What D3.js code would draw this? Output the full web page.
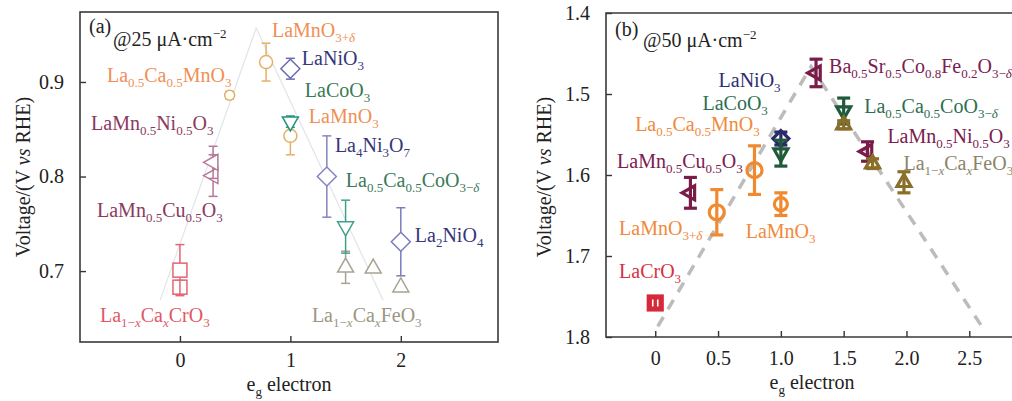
<!DOCTYPE html>
<html><head><meta charset="utf-8">
<script src="https://cdn.jsdelivr.net/npm/d3@7/dist/d3.min.js"></script>
<style>html,body{margin:0;padding:0;background:#fff;}svg{display:block;}</style>
</head><body>
<svg id="chart" width="1012" height="401"></svg>
<script>
// ---------------- DATA ----------------
// Panel (a) @25 µA·cm-2
const aSeries = ["CrO3","CrO3","Cu","Ni","CaMn","MnD","LaNiO3","LaMnO3","LaCoO3","La4Ni3O7","Fe","CaCo","Fe","Fe","La2NiO4"];
const aEg     = [0, 0, 0.30, 0.30, 0.45, 0.78, 1.00, 1.00, 1.00, 1.33, 1.50, 1.50, 1.75, 2.00, 2.00];
const aVolt   = [0.683, 0.701, 0.801, 0.815, 0.886, 0.921, 0.914, 0.843, 0.858, 0.800, 0.704, 0.747, 0.703, 0.683, 0.731];
const aErr    = [0.007, 0.027, 0.022, 0.017, 0.004, 0.020, 0.011, 0.020, 0.006, 0.043, 0.017, 0.028, 0, 0, 0.036];
const aVolcanoEg   = [-0.18, 0.69, 1.84];
const aVolcanoVolt = [0.669, 0.957, 0.669];
const aXTicks = [0, 1, 2];
const aYTicks = [0.7, 0.8, 0.9];

// Panel (b) @50 µA·cm-2
const bSeries = ["LaCrO3","Cu","MnD","CaMn","LaMnO3","LaNiO3","LaCoO3","BSCF","CaCo","Fe","Ni","Fe","Fe"];
const bEg     = [0, 0.28, 0.49, 0.79, 1.00, 1.00, 1.00, 1.28, 1.50, 1.50, 1.69, 1.73, 1.98];
const bVolt   = [1.758, 1.622, 1.646, 1.594, 1.636, 1.555, 1.573, 1.474, 1.521, 1.538, 1.571, 1.586, 1.609];
const bErr    = [0.004, 0.019, 0.028, 0.030, 0.014, 0.008, 0.016, 0.017, 0.016, 0.005, 0.012, 0.006, 0.013];
const bVolcanoEg   = [0.02, 1.24, 2.60];
const bVolcanoVolt = [1.787, 1.466, 1.787];
const bXTicks = [0, 0.5, 1.0, 1.5, 2.0, 2.5];
const bXTickLabels = ["0", "0.5", "1.0", "1.5", "2.0", "2.5"];
const bYTicks = [1.4, 1.5, 1.6, 1.7, 1.8];
const bYTickLabels = ["1.4", "1.5", "1.6", "1.7", "1.8"];

// Labels (rich text: _{} subscript, ^{} superscript, *..* italic)
const aLabelText = ["La_{0.5}Ca_{0.5}MnO_{3}","LaMn_{0.5}Ni_{0.5}O_{3}","LaMn_{0.5}Cu_{0.5}O_{3}","La_{1−*x*}Ca_{*x*}CrO_{3}",
  "LaMnO_{3+*δ*}","LaNiO_{3}","LaCoO_{3}","LaMnO_{3}","La_{4}Ni_{3}O_{7}","La_{0.5}Ca_{0.5}CoO_{3−*δ*}","La_{2}NiO_{4}","La_{1−*x*}Ca_{*x*}FeO_{3}"];
const aLabelSeries = ["CaMn","Ni","Cu","CrO3","MnD","LaNiO3","LaCoO3","LaMnO3","La4Ni3O7","CaCo","La2NiO4","Fe"];
const bLabelText = ["LaNiO_{3}","LaCoO_{3}","La_{0.5}Ca_{0.5}MnO_{3}","LaMn_{0.5}Cu_{0.5}O_{3}","LaMnO_{3+*δ*}","LaMnO_{3}","LaCrO_{3}",
  "Ba_{0.5}Sr_{0.5}Co_{0.8}Fe_{0.2}O_{3−*δ*}","La_{0.5}Ca_{0.5}CoO_{3−*δ*}","LaMn_{0.5}Ni_{0.5}O_{3}","La_{1−*x*}Ca_{*x*}FeO_{3}"];
const bLabelSeries = ["LaNiO3","LaCoO3","CaMn","Cu","MnD","LaMnO3","LaCrO3","BSCF","CaCo","Ni","Fe"];

// ---------------- LAYOUT / STYLE ----------------
// label anchors (text start, baseline) in data units
const aLabelPos = [[-0.661,0.8997],[-0.805,0.8489],[-0.751,0.7568],[-0.724,0.6457],[0.833,0.9473],[1.104,0.9177],
  [1.131,0.8838],[1.167,0.8563],[1.403,0.8256],[1.502,0.7886],[2.127,0.7304],[1.195,0.6457]];
const bLabelPos = [[0.504,1.4915],[0.376,1.520],[-0.16,1.5455],[-0.304,1.5914],[-0.288,1.674],[0.72,1.6778],[-0.288,1.727],
  [1.384,1.474],[1.664,1.5235],[1.848,1.560],[1.976,1.5935]];

const aStyle = {
  CrO3:    {shape:"square",  mark:"#e26573", text:"#e05868", s:7},
  Cu:      {shape:"tri-left",mark:"#b57898", text:"#8a3a60", s:8},
  Ni:      {shape:"tri-left",mark:"#b57898", text:"#8a3a60", s:8},
  CaMn:    {shape:"circle",  mark:"#e4ae62", text:"#f08f55", s:5},
  MnD:     {shape:"circle",  mark:"#e4b066", text:"#f08f55", s:6.5},
  LaNiO3:  {shape:"diamond", mark:"#6a6ab4", text:"#36367a", s:9.5},
  LaMnO3:  {shape:"circle",  mark:"#e3b068", text:"#f08f55", s:6.5},
  LaCoO3:  {shape:"tri-down",mark:"#24957c", text:"#3a7a58", s:8},
  La4Ni3O7:{shape:"diamond", mark:"#8484c2", text:"#36367a", s:9.5},
  CaCo:    {shape:"tri-down",mark:"#3fa08c", text:"#3a7a58", s:8},
  Fe:      {shape:"tri-up",  mark:"#aaa293", text:"#9c9682", s:8},
  La2NiO4: {shape:"diamond", mark:"#7a7ac0", text:"#36367a", s:9.5}
};
const bStyle = {
  LaCrO3: {shape:"fsquare", mark:"#d42a3a", text:"#d83040", s:7},
  Cu:     {shape:"tri-left",mark:"#7a1c4a", text:"#7a2050", s:7},
  Ni:     {shape:"tri-left",mark:"#7a1c4a", text:"#7a2050", s:7},
  BSCF:   {shape:"tri-left",mark:"#7a1c4a", text:"#7a2050", s:7},
  MnD:    {shape:"circle",  mark:"#f08a30", text:"#f08a3c", s:7.5},
  CaMn:   {shape:"circle",  mark:"#f08a30", text:"#f08a3c", s:7.5},
  LaMnO3: {shape:"circle",  mark:"#f08a30", text:"#f08a3c", s:6.5},
  LaNiO3: {shape:"diamond", mark:"#2a2a6a", text:"#2e2e74", s:8},
  LaCoO3: {shape:"tri-down",mark:"#1f5a3a", text:"#2e6e50", s:7},
  CaCo:   {shape:"tri-down",mark:"#1f5a3a", text:"#2e6e50", s:7},
  Fe:     {shape:"tri-up",  mark:"#8a6f2a", text:"#8a8468", s:7}
};

const FONT = "Liberation Serif";
const FS = 20;
const svg = d3.select("#chart");

// scales
const ax = d3.scaleLinear([-0.905, 2.88], [80, 498]);
const ay = d3.scaleLinear([0.625, 0.974], [342, 12]);
const bx = d3.scaleLinear([-0.392, 2.84], [606, 1012]);
const by = d3.scaleLinear([1.4, 1.8], [13, 337]);

// ---------------- HELPERS ----------------
function parseRich(s){
  const segs=[]; let i=0;
  while(i<s.length){
    let mode="n", content;
    if((s[i]==="_"||s[i]==="^") && s[i+1]==="{"){
      mode = s[i]==="_" ? "sub" : "sup";
      const j = s.indexOf("}", i); content = s.slice(i+2, j); i = j+1;
    } else {
      let j=i; while(j<s.length && !((s[j]==="_"||s[j]==="^") && s[j+1]==="{")) j++;
      content = s.slice(i, j); i = j;
    }
    content.split("*").forEach((t,k)=>{ if(t) segs.push({t, mode, it:k%2===1}); });
  }
  return segs;
}
function richText(g, str, x, y, color, opt={}){
  const fs = opt.fs || FS;
  const t = g.append("text").attr("x", x).attr("y", y).attr("fill", color)
    .attr("font-family", FONT).attr("font-size", fs);
  if(opt.anchor) t.attr("text-anchor", opt.anchor);
  if(opt.transform) t.attr("transform", opt.transform);
  let cur = 0;
  parseRich(str).forEach(seg=>{
    const off = seg.mode==="sub" ? fs*0.25 : seg.mode==="sup" ? -fs*0.4 : 0;
    const sp = t.append("tspan").text(seg.t);
    if(off!==cur) sp.attr("dy", off-cur);
    cur = off;
    if(seg.mode!=="n") sp.attr("font-size", fs*0.65);
    if(seg.it) sp.attr("font-style", "italic");
  });
  return t;
}
function marker(g, shape, cx, cy, s, color, sw, fill){
  let el;
  if(shape==="square" || shape==="fsquare"){
    el = g.append("rect").attr("x", cx-s).attr("y", cy-s).attr("width", 2*s).attr("height", 2*s);
  } else if(shape==="circle"){
    el = g.append("circle").attr("cx", cx).attr("cy", cy).attr("r", s);
  } else {
    let pts;
    if(shape==="diamond") pts=[[cx,cy-s],[cx+s,cy],[cx,cy+s],[cx-s,cy]];
    if(shape==="tri-up") pts=[[cx,cy-s*1.15],[cx+s,cy+s*0.6],[cx-s,cy+s*0.6]];
    if(shape==="tri-down") pts=[[cx,cy+s*1.15],[cx+s,cy-s*0.6],[cx-s,cy-s*0.6]];
    if(shape==="tri-left") pts=[[cx-s*1.2,cy],[cx+s*0.6,cy-s],[cx+s*0.6,cy+s]];
    el = g.append("path").attr("d", "M"+pts.map(p=>p.join(",")).join("L")+"Z");
  }
  el.attr("stroke", color).attr("stroke-width", sw).attr("fill", shape==="fsquare" ? color : fill)
    .attr("stroke-linejoin","miter");
  if(shape==="fsquare"){
    [-2.5, 2.5].forEach(dx=>g.append("line").attr("x1",cx+dx).attr("x2",cx+dx).attr("y1",cy-3.5).attr("y2",cy+3.5)
      .attr("stroke","#fff").attr("stroke-width",1.6));
  }
}
function errBar(g, x, y1, y2, cap, color, sw){
  if(Math.abs(y2-y1)<0.5) return;
  g.append("line").attr("x1",x).attr("x2",x).attr("y1",y1).attr("y2",y2).attr("stroke",color).attr("stroke-width",sw);
  [y1,y2].forEach(y=>g.append("line").attr("x1",x-cap).attr("x2",x+cap).attr("y1",y).attr("y2",y)
    .attr("stroke",color).attr("stroke-width",sw));
}
function styleAxis(sel){
  sel.attr("font-family", FONT);
  sel.select(".domain").remove();
  sel.selectAll(".tick line").attr("stroke","#333").attr("stroke-width",1.4);
  sel.selectAll(".tick text").attr("font-family",FONT).attr("font-size",FS).attr("fill","#222");
}

// ---------------- PANEL A ----------------
const ga = svg.append("g");
ga.append("path").datum(aVolcanoEg.map((e,i)=>[e,aVolcanoVolt[i]]))
  .attr("d", d3.line().x(d=>ax(d[0])).y(d=>ay(d[1])))
  .attr("fill","none").attr("stroke","#e2e6eb").attr("stroke-width",1.3);
aEg.forEach((e,i)=>{
  const st = aStyle[aSeries[i]];
  const cx = ax(e), cy = ay(aVolt[i]);
  if(aErr[i]>0) errBar(ga, cx, ay(aVolt[i]-aErr[i]), ay(aVolt[i]+aErr[i]), 4.5, st.mark, 1.5);
  marker(ga, st.shape, cx, cy, st.s, st.mark, 1.5, "#fff");
});
ga.append("g").attr("transform","translate(0,342)")
  .call(d3.axisBottom(ax).tickValues(aXTicks).tickFormat(d3.format("d")).tickSizeInner(-6).tickSizeOuter(0).tickPadding(11))
  .call(styleAxis);
ga.append("g").attr("transform","translate(80,0)")
  .call(d3.axisLeft(ay).tickValues(aYTicks).tickFormat(d3.format(".1f")).tickSizeInner(-6).tickSizeOuter(0).tickPadding(16))
  .call(styleAxis);
ga.append("rect").attr("x",80).attr("y",12).attr("width",418).attr("height",330)
  .attr("fill","none").attr("stroke","#3a3a3a").attr("stroke-width",1.6);
aLabelText.forEach((t,i)=>richText(ga, t, ax(aLabelPos[i][0]), ay(aLabelPos[i][1]), aStyle[aLabelSeries[i]].text));
richText(ga, "(a)", 89, 33, "#222");
richText(ga, "@25 μA·cm^{−2}", 113, 46, "#222");
richText(ga, "Voltage/(V *vs* RHE)", 0, 0, "#222", {anchor:"middle", transform:"translate(30,177) rotate(-90)"});
richText(ga, "e_{g} electron", 289, 391, "#222", {anchor:"middle"});

// ---------------- PANEL B ----------------
const gb = svg.append("g");
gb.append("path").datum(bVolcanoEg.map((e,i)=>[e,bVolcanoVolt[i]]))
  .attr("d", d3.line().x(d=>bx(d[0])).y(d=>by(d[1])))
  .attr("fill","none").attr("stroke","#bcbcbc").attr("stroke-width",3.5).attr("stroke-dasharray","11,9");
bEg.forEach((e,i)=>{
  const st = bStyle[bSeries[i]];
  const cx = bx(e), cy = by(bVolt[i]);
  errBar(gb, cx, by(bVolt[i]-bErr[i]), by(bVolt[i]+bErr[i]), 6.5, st.mark, 3.2);
  marker(gb, st.shape, cx, cy, st.s, st.mark, 3.2, "none");
});
gb.append("g").attr("transform","translate(0,337)")
  .call(d3.axisBottom(bx).tickValues(bXTicks).tickFormat((d,i)=>bXTickLabels[i]).tickSizeInner(-6).tickSizeOuter(0).tickPadding(14))
  .call(styleAxis);
gb.append("g").attr("transform","translate(606,0)")
  .call(d3.axisLeft(by).tickValues(bYTicks).tickFormat((d,i)=>bYTickLabels[i]).tickSizeInner(-6).tickSizeOuter(0).tickPadding(16))
  .call(styleAxis);
gb.append("path").attr("d","M1012,13H606V337H1012")
  .attr("fill","none").attr("stroke","#3a3a3a").attr("stroke-width",1.6);
bLabelText.forEach((t,i)=>richText(gb, t, bx(bLabelPos[i][0]), by(bLabelPos[i][1]), bStyle[bLabelSeries[i]].text));
richText(gb, "(b)", 615, 36, "#222");
richText(gb, "@50 μA·cm^{−2}", 643, 47, "#222");
richText(gb, "Voltage/(V *vs* RHE)", 0, 0, "#222", {anchor:"middle", transform:"translate(551,177) rotate(-90)"});
richText(gb, "e_{g} electron", 812, 389, "#222", {anchor:"middle"});
</script>
</body></html>
